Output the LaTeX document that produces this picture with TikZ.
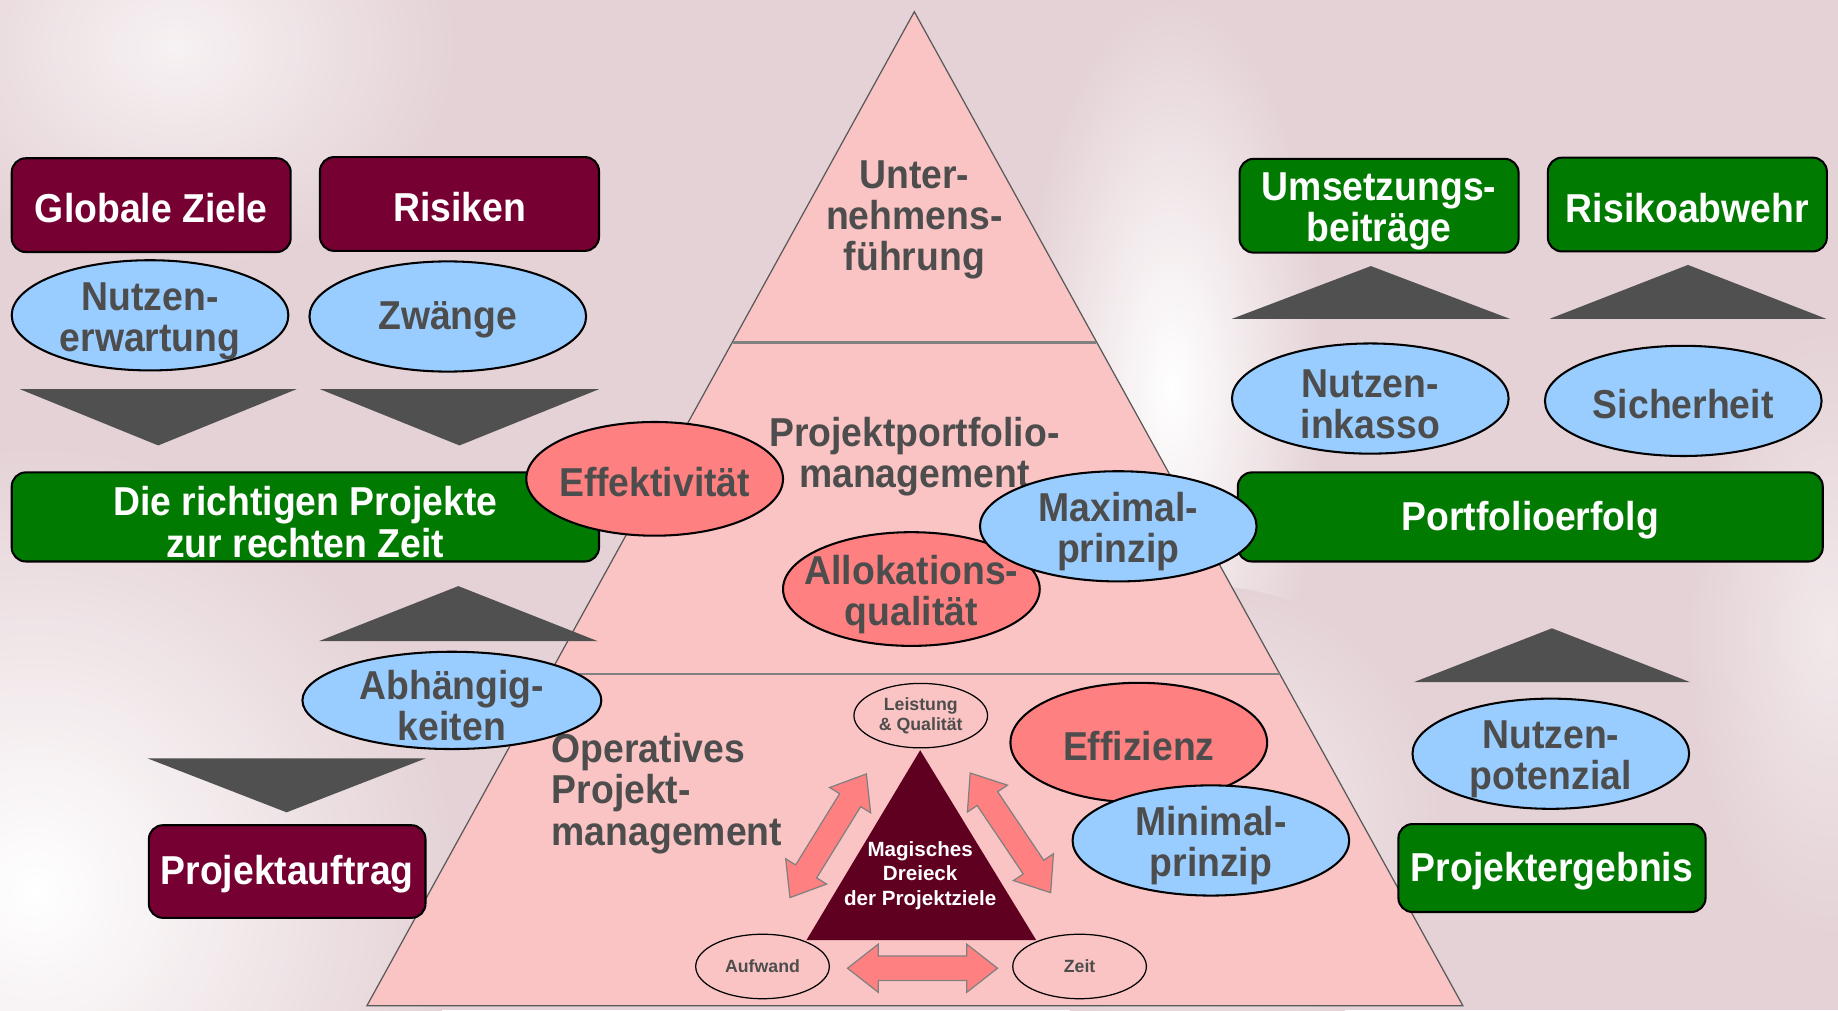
\documentclass[tikz,border=0pt]{standalone}
\usepackage{fontspec}
\setmainfont[FakeStretch=0.925]{Liberation Sans}
\newfontfamily\plainface{Liberation Sans}
\usetikzlibrary{shapes.geometric,shapes.arrows}
\definecolor{wine}{HTML}{770033}
\definecolor{leaf}{HTML}{007A00}
\definecolor{sky}{HTML}{99CCFF}
\definecolor{salmon}{HTML}{FF8080}
\definecolor{rose}{HTML}{FAC4C4}
\definecolor{ink}{HTML}{4D4D4D}
\definecolor{steel}{HTML}{505050}
\definecolor{plum}{HTML}{600020}
\definecolor{blush}{HTML}{E4D2D6}
\newcommand\labelfont{\bfseries\fontsize{9.8}{10}\selectfont\lineskiplimit=-10pt\lineskip=0pt}
\tikzset{lowered/.style={execute at begin node={\rule{0pt}{#1}}}, lowered/.default=8.6pt, tile/.style={lowered,draw=black,line width=0.5pt,rounded corners=1.2mm,minimum width=23.8mm,minimum height=8mm,inner sep=0,align=center,text=white,font=\labelfont}, wine tile/.style={tile,fill=wine}, leaf tile/.style={tile,fill=leaf}, oval/.style={lowered,ellipse,draw=black,line width=0.5pt,minimum width=23.6mm,minimum height=9.4mm,inner xsep=-2.5mm,inner ysep=-1mm,align=center,text=ink,font=\labelfont}, sky oval/.style={oval,fill=sky}, salmon oval/.style={oval,fill=salmon,minimum width=21.9mm,minimum height=9.7mm}, tiny oval/.style={ellipse,draw=black,line width=0.3pt,minimum width=11.4mm,minimum height=5.5mm,inner sep=0,align=center,text=ink,font=\plainface\bfseries\fontsize{4.3}{4.8}\selectfont}, layer/.style={text=ink,inner xsep=0,font=\labelfont}, pair/.style={lowered=19.6pt}, triple/.style={lowered=28.2pt}, divider/.style={draw=gray,line width=0.7pt}, wedge/.style={fill=steel}, twoway/.style={double arrow,draw=gray,fill=salmon,line width=0.3pt,double arrow head extend=1mm,double arrow tip angle=76,text height=2mm,text depth=0pt,inner sep=0,minimum width=1pt}}
\begin{document}
\begin{tikzpicture}[x=0.1mm,y=-0.1mm]
\useasboundingbox (0,0) rectangle (1568,862);
% background
\fill[blush] (0,0) rectangle (1568,862);
\shade[inner color=white,outer color=blush] (30,760) ellipse [x radius=360,y radius=380];
\shade[inner color=white!70!blush,outer color=blush] (150,40) ellipse [x radius=240,y radius=190];
\shade[inner color=white,outer color=blush] (1000,330) ellipse [x radius=130,y radius=330];
\shade[inner color=white!60!blush,outer color=blush] (1030,700) ellipse [x radius=200,y radius=200];
\shade[inner color=white!50!blush,outer color=blush] (1560,540) ellipse [x radius=120,y radius=260];
% pyramid
\filldraw[fill=rose,draw=gray!70!black,line width=0.3pt] (780,10) -- (1248,858) -- (313,858) -- cycle;
\draw[divider] (625,292) -- (935,292);
\draw[divider] (469,575) -- (1092,575);
\node[layer,triple,align=center] (top) at (780,185) {Unter-\\nehmens-\\führung};
\node[layer,pair,align=center] (mid) at (780,385) {Projektportfolio-\\management};
\node[layer,triple,align=left,anchor=west] (low) at (470,675) {Operatives\\Projekt-\\management};
% wedges
\foreach \l/\r/\b/\a in {17/253/332/380, 273/511/332/380, 126/363/647/693, 272/510/547/500, 1051/1288/272/227, 1322/1558/272/226, 1206/1442/582/536}
  \fill[wedge] (\l,\b) -- (\r,\b) -- ({(\l+\r)/2},\a) -- cycle;
% left column
\node[wine tile] (goals) at (129,175) {Globale Ziele};
\node[wine tile] (risks) at (392,174) {Risiken};
\node[sky oval,pair] (expect) at (128,269) {Nutzen-\\erwartung};
\node[sky oval] (force) at (382,270) {Zwänge};
\node[leaf tile,pair,minimum width=50.1mm,minimum height=7.6mm] (rightproj) at (260.5,441) {Die richtigen Projekte\\zur rechten Zeit};
\node[salmon oval] (effect) at (558.5,408.5) {Effektivität};
\node[sky oval,pair,minimum width=25.5mm,minimum height=8.3mm] (depend) at (385.5,597.5) {Abhängig-\\keiten};
\node[wine tile,minimum width=23.6mm,minimum height=7.9mm] (order) at (245,743.5) {Projektauftrag};
% right column
\node[leaf tile,pair] (contrib) at (1176.5,175.5) {Umsetzungs-\\beiträge};
\node[leaf tile] (defense) at (1439.5,174.5) {Risikoabwehr};
\node[sky oval,pair] (collect) at (1169,340) {Nutzen-\\inkasso};
\node[sky oval] (safety) at (1436,342) {Sicherheit};
\node[leaf tile,minimum width=49.9mm,minimum height=7.6mm] (success) at (1305.5,441) {Portfolioerfolg};
\node[salmon oval,pair] (alloc) at (777.5,502.5) {Allokations-\\qualität};
\node[sky oval,pair] (maxi) at (954,449) {Maximal-\\prinzip};
\node[sky oval,pair] (poten) at (1323,643) {Nutzen-\\potenzial};
\node[leaf tile,minimum width=26.2mm,minimum height=7.5mm] (result) at (1324,740.5) {Projektergebnis};
\node[salmon oval,minimum height=10.2mm] (effic) at (971.5,633.5) {Effizienz};
\node[sky oval,pair] (mini) at (1033,717) {Minimal-\\prinzip};
% magic triangle
\fill[plum] (785,640) -- (884,802) -- (688,802) -- cycle;
\node[align=center,text=white,font=\plainface\bfseries\fontsize{5}{6}\selectfont] (magic) at (785,747) {Magisches\\Dreieck\\der Projektziele};
\node[tiny oval] (scope) at (785.5,610.5) {Leistung\\\& Qualität};
\node[tiny oval] (cost) at (650.5,824.5) {Aufwand};
\node[tiny oval] (time) at (921,824.5) {Zeit};
\node[twoway,minimum height=12.4mm,rotate=58.3] (a1) at (706.5,713) {};
\node[twoway,minimum height=12.3mm,rotate=-56.1] (a2) at (862,710.5) {};
\node[twoway,minimum height=12.8mm] (a3) at (787,826) {};
\end{tikzpicture}
\end{document}
